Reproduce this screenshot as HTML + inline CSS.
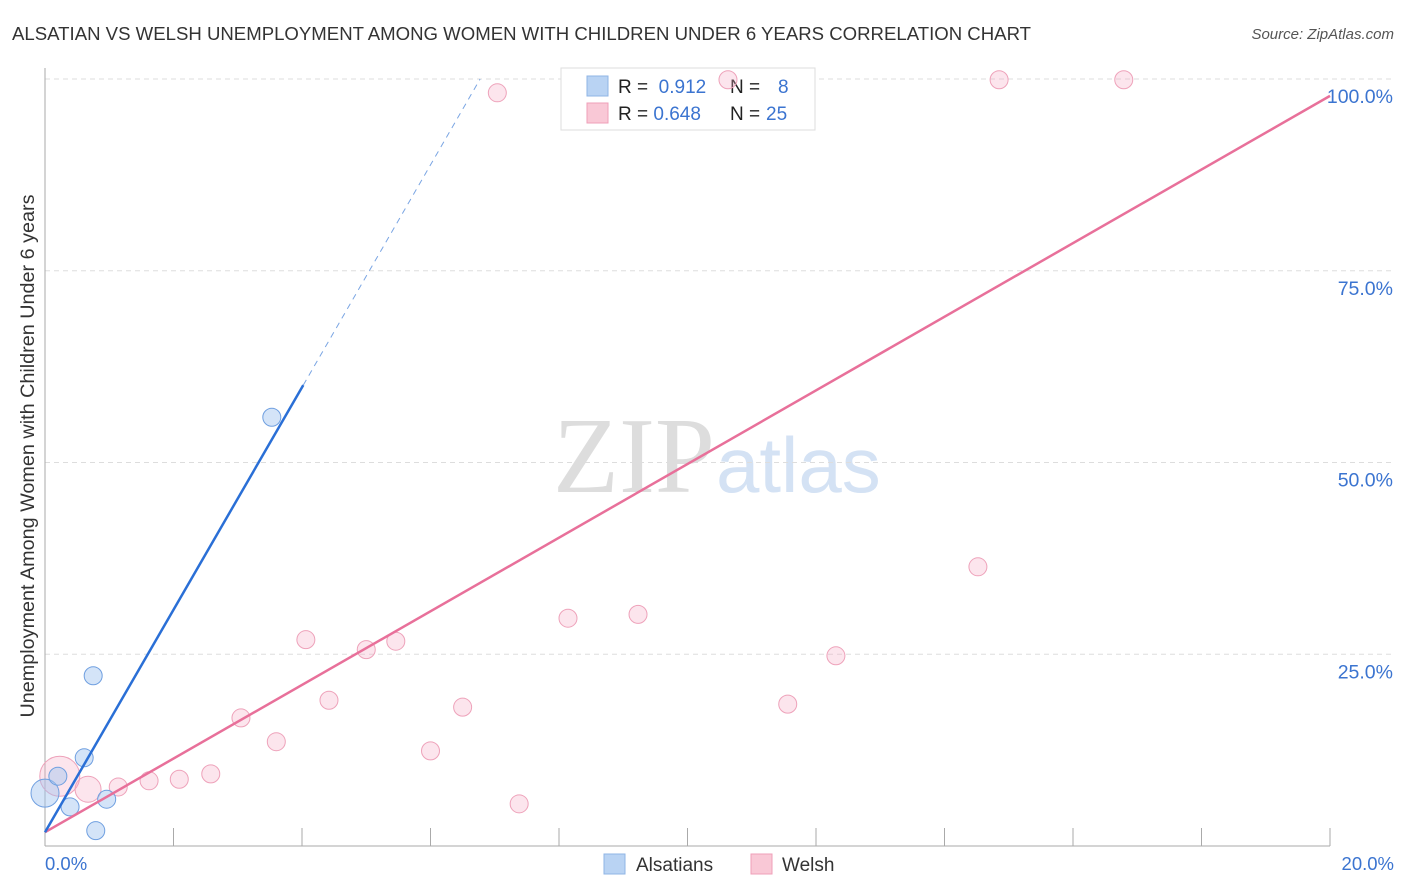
<!DOCTYPE html>
<html><head><meta charset="utf-8"><style>
body{margin:0;background:#fff;font-family:"Liberation Sans",sans-serif}
</style></head><body>
<svg id="c" width="1406" height="892" style="display:block">
<text x="12" y="40" font-size="18.6" fill="#333">ALSATIAN VS WELSH UNEMPLOYMENT AMONG WOMEN WITH CHILDREN UNDER 6 YEARS CORRELATION CHART</text>
<text x="1394" y="39" font-size="15" fill="#555" font-style="italic" text-anchor="end">Source: ZipAtlas.com</text>
<text x="553" y="492" font-size="108" fill="#ddd" font-family="Liberation Serif,serif">ZIP</text>
<text x="716" y="492" font-size="78" fill="#d4e2f4">atlas</text>
<text transform="translate(34,456) rotate(-90)" font-size="19.8" fill="#333" text-anchor="middle">Unemployment Among Women with Children Under 6 years</text>
<g id="grid"></g>
<g>
<rect x="561" y="68" width="254" height="62" fill="#fff" stroke="#ddd"/>
<rect x="587" y="76" width="21" height="20" fill="#b9d3f3" stroke="#8fb5e6"/>
<rect x="587" y="103" width="21" height="20" fill="#f9c8d6" stroke="#ef9fb8"/>
<text x="618" y="93" font-size="19" fill="#222">R = <tspan fill="#3b74d0">&#160;0.912</tspan><tspan x="730">N = </tspan><tspan x="778" fill="#3b74d0">8</tspan></text>
<text x="618" y="120" font-size="19" fill="#222">R = <tspan fill="#3b74d0">0.648</tspan><tspan x="730">N = </tspan><tspan x="766" fill="#3b74d0">25</tspan></text>
</g>
<g id="marks"></g>
<g>
<rect x="604" y="854" width="21" height="20" fill="#b9d3f3" stroke="#8fb5e6"/>
<text x="636" y="871" font-size="19" fill="#333">Alsatians</text>
<rect x="751" y="854" width="21" height="20" fill="#f9c8d6" stroke="#ef9fb8"/>
<text x="782" y="871" font-size="19" fill="#333">Welsh</text>
</g>
<text x="45" y="870" font-size="18.5" fill="#3b74d0">0.0%</text>
<text x="1394" y="870" font-size="18.5" fill="#3b74d0" text-anchor="end">20.0%</text>
</svg>
<script>
const yTicks=[25,50,75,100];
const blueX=[0,0.2,0.39,0.61,0.79,0.96,0.75,3.53];
const blueY=[6.9,9.1,5.1,11.5,2.0,6.1,22.2,55.9];
const blueR=[14,9,9,9,9,9,9,9];
const pinkX=[0.23,0.67,1.14,1.62,2.09,2.58,3.05,3.6,4.06,4.42,5.0,5.46,6.0,6.5,7.04,7.38,8.14,9.23,10.63,11.56,12.31,14.52,14.85,16.79];
const pinkY=[9.1,7.4,7.7,8.5,8.7,9.4,16.7,13.6,26.9,19.0,25.6,26.7,12.4,18.1,98.2,5.5,29.7,30.2,99.9,18.5,24.8,36.4,99.9,99.9];
const pinkR=[20,13,9,9,9,9,9,9,9,9,9,9,9,9,9,9,9,9,9,9,9,9,9,9];
const blueFit=[1.8,14.5];
const pinkFit=[1.8,4.8];
const NS="http://www.w3.org/2000/svg";
const X=v=>45+v/20*1285, Y=v=>846-v*7.67;
function mk(t,a,p){const e=document.createElementNS(NS,t);for(const k in a)e.setAttribute(k,a[k]);p.appendChild(e);return e;}
const g=document.getElementById('grid'),m=document.getElementById('marks');
yTicks.forEach(t=>{const l=mk('line',{x1:45,x2:1392,y1:Y(t),y2:Y(t),stroke:'#ddd','stroke-dasharray':'5,4'},g);


const tx=mk('text',{x:1393,y:Y(t)+24,'font-size':19.5,fill:'#3b74d0','text-anchor':'end'},g);tx.textContent=t.toFixed(1)+'%';

});
mk('line',{x1:45,x2:45,y1:68,y2:846,stroke:'#aaa'},g);
mk('line',{x1:45,x2:1330,y1:846,y2:846,stroke:'#aaa'},g);
for(let i=1;i<=10;i++){const l=mk('line',{x1:X(i*2),x2:X(i*2),y1:828,y2:846,stroke:'#aaa'},g);

}
pinkX.forEach((v,i)=>{const c=mk('circle',{cx:X(v),cy:Y(pinkY[i]),r:pinkR[i],fill:'rgba(246,170,195,0.3)',stroke:'#eea2ba'},m);

});
blueX.forEach((v,i)=>{const c=mk('circle',{cx:X(v),cy:Y(blueY[i]),r:blueR[i],fill:'rgba(160,195,240,0.45)',stroke:'#6f9fe0'},m);

});
const pl=mk('line',{x1:X(0),y1:Y(pinkFit[0]),x2:X(20),y2:Y(pinkFit[0]+pinkFit[1]*20),stroke:'#e8709a','stroke-width':2.5},m);


const xe=4.02, xt=(100-blueFit[0])/blueFit[1];
const bl=mk('line',{x1:X(0),y1:Y(blueFit[0]),x2:X(xe),y2:Y(blueFit[0]+blueFit[1]*xe),stroke:'#2a6fd6','stroke-width':2.5},m);


const bd=mk('line',{x1:X(xe),y1:Y(blueFit[0]+blueFit[1]*xe),x2:X(xt),y2:Y(100),stroke:'#7aa5e3','stroke-width':1,'stroke-dasharray':'6,5'},m);


</script>
</body></html>
